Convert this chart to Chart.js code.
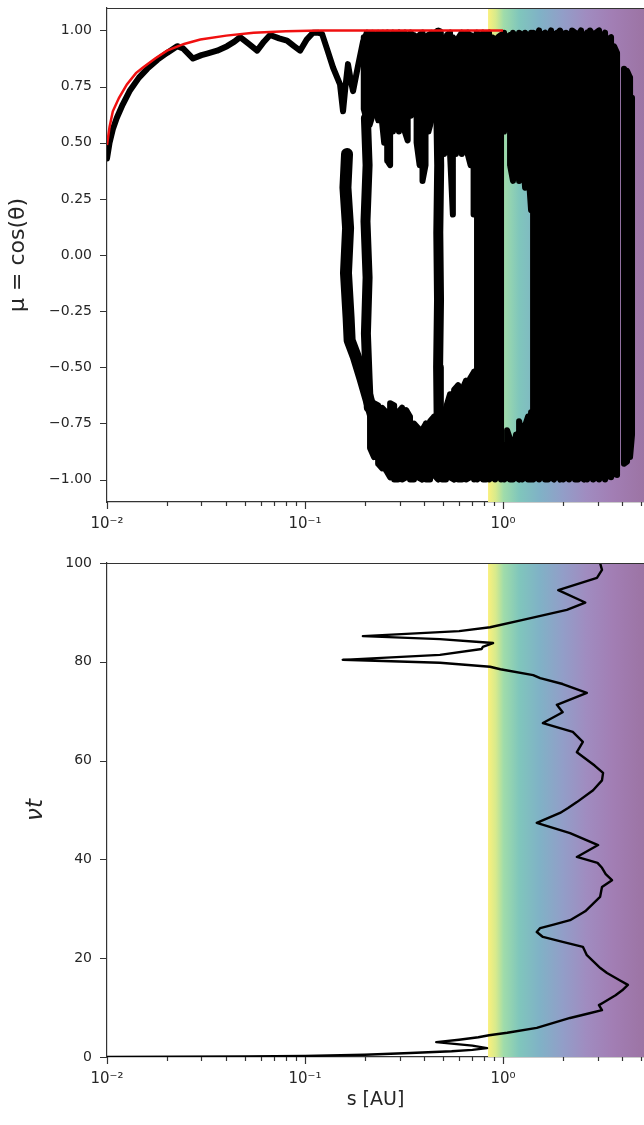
<!DOCTYPE html>
<html>
<head>
<meta charset="utf-8">
<script src="https://cdn.jsdelivr.net/npm/chart.js@4.4.1/dist/chart.umd.min.js"></script>
<style>
  html, body { margin: 0; padding: 0; background: #fff; overflow: hidden; }
  #topChart { position: absolute; left: 0; top: 0; }
  #bottomChart { position: absolute; left: 0; top: 555px; }
</style>
</head>
<body>
<canvas id="topChart" width="644" height="545"></canvas>
<canvas id="bottomChart" width="644" height="570"></canvas>
<script>
// ---- axes ----
const sRange = [0.01, 5.15];
const muRange = [-1.1, 1.1];
const vtRange = [0, 100];
const xTickValues = [0.01, 0.02, 0.03, 0.04, 0.05, 0.06, 0.07, 0.08, 0.09,
  0.1, 0.2, 0.3, 0.4, 0.5, 0.6, 0.7, 0.8, 0.9, 1, 2, 3, 4, 5];
const xMajorTicks = [0.01, 0.1, 1];
const xMajorLabels = ["10⁻²", "10⁻¹", "10⁰"];
const muTicks = [-1, -0.75, -0.5, -0.25, 0, 0.25, 0.5, 0.75, 1];
const vtTicks = [0, 20, 40, 60, 80, 100];
const bandStart = 0.84; // where the coloured region begins (s in AU)

// ---- red focusing curve mu(s) ----
const focusS = [0.0100, 0.0103, 0.0107, 0.0115, 0.0126, 0.0140, 0.0152, 0.0175, 0.0201, 0.0245, 0.0296, 0.040, 0.055, 0.080, 0.12, 1.0];
const focusMu = [0.49, 0.57, 0.64, 0.70, 0.76, 0.81, 0.835, 0.875, 0.91, 0.94, 0.96, 0.977, 0.99, 0.996, 1.0, 1.0];

// ---- particle mu(s), traced pieces ----
const traceStart = [[0.0100, 0.43], [0.0103, 0.50], [0.0107, 0.56], [0.0112, 0.61], [0.0120, 0.67], [0.0130, 0.73],
  [0.0145, 0.79], [0.0160, 0.83], [0.0180, 0.87], [0.0201, 0.90], [0.0226, 0.93], [0.0242, 0.92], [0.0272, 0.875],
  [0.0300, 0.89], [0.0320, 0.897], [0.0360, 0.91], [0.0404, 0.93], [0.0440, 0.95], [0.0470, 0.97], [0.0520, 0.94],
  [0.0573, 0.91], [0.0620, 0.95], [0.0666, 0.98], [0.0740, 0.965], [0.0811, 0.955], [0.0880, 0.93], [0.0944, 0.91],
  [0.1020, 0.96], [0.1097, 0.99], [0.1160, 0.99], [0.1219, 0.985], [0.1300, 0.91], [0.1385, 0.835], [0.1502, 0.76],
  [0.1556, 0.64], [0.1600, 0.75], [0.1648, 0.85], [0.1700, 0.78], [0.1748, 0.73], [0.1850, 0.84], [0.1963, 0.95],
  [0.2056, 0.99], [0.2257, 0.98], [0.2477, 0.99], [0.2718, 0.97], [0.2983, 0.99]];
const bandLeft = [[0.163, 0.45], [0.160, 0.30], [0.165, 0.12], [0.161, -0.08], [0.166, -0.28], [0.168, -0.38],
  [0.180, -0.45], [0.195, -0.55], [0.215, -0.68], [0.235, -0.80], [0.258, -0.94]];
const bandSecond = [[0.203, 0.61], [0.207, 0.40], [0.202, 0.15], [0.207, -0.10], [0.203, -0.35], [0.207, -0.55], [0.210, -0.68]];
const bandMid = [[0.474, 0.99], [0.470, 0.70], [0.476, 0.40], [0.471, 0.10], [0.475, -0.20], [0.470, -0.50], [0.474, -0.80]];

// vertical extents of the filled-in parts (s, highest mu, lowest mu)
const capS = [0.198, 0.205, 0.212, 0.219, 0.227, 0.234, 0.243, 0.251, 0.260, 0.269, 0.278, 0.288, 0.298, 0.308,
  0.319, 0.330, 0.342, 0.354, 0.366, 0.379, 0.392, 0.406, 0.420, 0.435];
const capTop = [0.97, 0.99, 0.98, 0.99, 0.97, 0.99, 0.97, 0.98, 0.99, 0.97, 0.99, 0.97, 0.99, 0.98,
  0.99, 0.97, 0.99, 0.98, 0.97, 0.98, 0.99, 0.97, 0.98, 0.99];
const capBot = [0.65, 0.60, 0.58, 0.62, 0.70, 0.60, 0.62, 0.50, 0.42, 0.40, 0.55, 0.60, 0.55, 0.60,
  0.55, 0.51, 0.62, 0.68, 0.50, 0.40, 0.33, 0.40, 0.55, 0.60];
const capRightS = [0.504, 0.521, 0.540, 0.558, 0.578, 0.598, 0.619, 0.641, 0.663, 0.686, 0.710, 0.735];
const capRightTop = [0.97, 0.98, 0.99, 0.97, 0.95, 0.97, 0.99, 0.98, 0.99, 0.98, 0.97, 0.99];
const capRightBot = [0.45, 0.50, 0.45, 0.18, 0.45, 0.50, 0.45, 0.48, 0.45, 0.40, 0.18, 0.45];

const floorS = [0.213, 0.223, 0.234, 0.245, 0.257, 0.269, 0.282, 0.295, 0.309, 0.324, 0.339, 0.355, 0.372, 0.390,
  0.408, 0.428, 0.448, 0.470, 0.492, 0.515, 0.540, 0.566, 0.593, 0.621, 0.650, 0.681, 0.714];
const floorTop = [-0.69, -0.66, -0.67, -0.68, -0.70, -0.66, -0.67, -0.70, -0.68, -0.69, -0.72, -0.75, -0.77, -0.78,
  -0.75, -0.74, -0.72, -0.75, -0.75, -0.68, -0.62, -0.60, -0.58, -0.60, -0.56, -0.55, -0.52];
const floorBot = [-0.86, -0.90, -0.93, -0.95, -0.96, -0.99, -1.0, -1.0, -1.0, -0.99, -1.0, -1.0, -0.99, -1.0,
  -1.0, -1.0, -0.98, -1.0, -1.0, -1.0, -0.99, -1.0, -1.0, -1.0, -1.0, -0.99, -1.0];

const wallS = [0.739, 0.765, 0.793, 0.821, 0.850, 0.880, 0.911, 0.944, 0.977];
const wallTop = [0.99, 0.97, 0.99, 0.98, 0.99, 0.97, 0.96, 0.97, 0.98];
const wallBot = [-1.0, -0.99, -1.0, -1.0, -1.0, -0.99, -1.0, -0.98, -1.0];

const gapS = [1.012, 1.048, 1.085, 1.123, 1.163, 1.205, 1.247, 1.292, 1.337, 1.385];
const gapUpperTop = [0.99, 0.97, 0.98, 0.99, 0.96, 0.99, 0.98, 0.99, 0.97, 0.99];
const gapUpperBot = [0.55, 0.80, 0.40, 0.33, 0.60, 0.33, 0.50, 0.30, 0.40, 0.20];
const gapLowerTop = [-0.85, -0.78, -0.82, -0.88, -0.80, -0.74, -0.80, -0.76, -0.72, -0.70];
const gapLowerBot = [-1.0, -0.99, -1.0, -1.0, -0.99, -1.0, -1.0, -0.99, -1.0, -1.0];

const denseS = [1.418, 1.468, 1.520, 1.574, 1.630, 1.688, 1.748, 1.810, 1.874, 1.941, 2.009, 2.081, 2.154, 2.231,
  2.310, 2.392, 2.477, 2.565, 2.656, 2.750, 2.848, 2.949, 3.054, 3.162, 3.275, 3.390, 3.511, 3.636, 3.765];
const denseTop = [0.99, 0.97, 1.0, 0.98, 0.99, 0.97, 1.0, 0.98, 0.99, 1.0, 0.97, 0.99, 0.98, 1.0,
  0.99, 0.98, 1.0, 0.97, 0.99, 1.0, 0.98, 0.99, 1.0, 0.97, 0.99, 0.96, 0.97, 0.93, 0.90];
const denseBot = [-1.0, -0.99, -1.0, -0.98, -1.0, -1.0, -0.99, -1.0, -0.97, -1.0, -1.0, -0.99, -1.0, -0.98,
  -1.0, -1.0, -0.99, -1.0, -1.0, -0.98, -1.0, -0.99, -1.0, -0.98, -1.0, -0.97, -0.99, -0.96, -0.98];

const edgeS = [4.08, 4.23, 4.38, 4.48];
const edgeTop = [0.83, 0.82, 0.79, 0.70];
const edgeBot = [-0.93, -0.92, -0.90, -0.80];

// ---- particle position s(nu t) ----
const pathS = [0.010, 0.05, 0.10, 0.20, 0.34, 0.55, 0.70, 0.83, 0.70, 0.55, 0.46, 0.60, 0.75, 0.85, 1.05, 1.48, 2.18,
  2.70, 3.16, 3.05, 3.20, 3.70, 4.00, 4.27, 3.90, 3.35, 3.10, 2.65, 2.53, 2.00, 1.59, 1.48, 1.54, 1.80, 2.18, 2.60,
  3.09, 3.16, 3.55, 3.30, 3.16, 3.00, 2.36, 3.02, 2.60, 2.18, 1.48, 1.94, 2.13, 2.36, 2.85, 3.16, 3.20, 2.90, 2.36,
  2.53, 2.25, 1.59, 2.00, 1.87, 2.65, 2.00, 1.54, 1.42, 0.97, 0.86, 0.48, 0.155, 0.48, 0.78, 0.79, 0.89, 0.76, 0.48,
  0.196, 0.48, 0.60, 0.86, 1.26, 2.10, 2.60, 1.90, 2.98, 3.16, 3.09];
const pathVt = [0, 0.1, 0.2, 0.45, 0.8, 1.15, 1.45, 1.8, 2.3, 2.7, 3.0, 3.5, 4.0, 4.4, 4.9, 5.9, 7.9,
  8.8, 9.5, 10.5, 11.0, 12.5, 13.5, 14.6, 15.5, 17.0, 18.0, 20.6, 22.3, 23.3, 24.3, 25.3, 26.1, 26.8, 27.7, 29.5,
  32.4, 34.4, 35.8, 37.0, 38.3, 39.3, 40.5, 42.9, 44.0, 45.3, 47.4, 49.4, 50.4, 51.6, 54.0, 56.0, 57.5, 59.0, 61.7,
  63.8, 65.8, 67.6, 69.8, 71.3, 73.7, 75.5, 76.7, 77.3, 78.5, 79.0, 79.8, 80.4, 81.4, 82.6, 83.0, 83.8, 84.0, 84.6,
  85.2, 86.0, 86.2, 87.0, 88.5, 90.5, 92.0, 94.5, 97.0, 98.6, 100];

// ---- styles ----
const FONT = "'DejaVu Sans', sans-serif";
const INK = "#262626";
const SPINE = "#333333";
const bandStops = [
  [0.00, "rgb(250,240,125)"], [0.05, "rgb(215,234,140)"], [0.10, "rgb(160,220,170)"],
  [0.20, "rgb(128,198,188)"], [0.33, "rgb(128,178,198)"], [0.48, "rgb(146,158,200)"],
  [0.63, "rgb(160,140,192)"], [0.80, "rgb(162,126,180)"], [1.00, "rgb(156,116,164)"]
];

Chart.defaults.font.family = FONT;
Chart.defaults.color = INK;

const toPoints = (pairs) => pairs.map(([x, y]) => ({ x, y }));
function columnsPath(s, top, bot) {
  const pts = [];
  s.forEach((v, i) => {
    if (i % 2 === 0) pts.push({ x: v, y: top[i] }, { x: v, y: bot[i] });
    else pts.push({ x: v, y: bot[i] }, { x: v, y: top[i] });
  });
  return pts;
}

const panelDecor = {
  id: "panelDecor",
  beforeDatasetsDraw(chart) {
    const { ctx, chartArea: a, scales: { x } } = chart;
    const x0 = x.getPixelForValue(bandStart);
    const g = ctx.createLinearGradient(x0, 0, a.right, 0);
    bandStops.forEach(([f, c]) => g.addColorStop(f, c));
    ctx.save();
    ctx.fillStyle = g;
    ctx.fillRect(x0, a.top, a.right - x0, a.bottom - a.top);
    ctx.restore();
  },
  afterDraw(chart) {
    const { ctx, chartArea: a, scales: { x, y } } = chart;
    ctx.save();
    ctx.strokeStyle = SPINE;
    ctx.lineWidth = 1.2;
    ctx.beginPath();
    xTickValues.forEach((v) => {
      const px = Math.round(x.getPixelForValue(v)) + 0.5;
      const len = xMajorTicks.includes(v) ? 7 : 4;
      ctx.moveTo(px, a.bottom);
      ctx.lineTo(px, a.bottom + len);
    });
    y.ticks.forEach((t) => {
      const py = Math.round(y.getPixelForValue(t.value)) + 0.5;
      ctx.moveTo(a.left - 7, py);
      ctx.lineTo(a.left, py);
    });
    ctx.moveTo(a.left, a.top + 0.5);
    ctx.lineTo(a.right, a.top + 0.5);
    ctx.stroke();
    ctx.restore();
  }
};

function xScale(axisHeight, title) {
  return {
    type: "logarithmic",
    min: sRange[0],
    max: sRange[1],
    afterBuildTicks: (s) => { s.ticks = xTickValues.map((v) => ({ value: v })); },
    afterFit: (s) => { s.height = axisHeight; s.paddingLeft = 0; s.paddingRight = 0; },
    ticks: {
      autoSkip: false, maxRotation: 0, padding: 6, font: { size: 15 },
      callback: (v) => { const i = xMajorTicks.indexOf(v); return i >= 0 ? xMajorLabels[i] : ""; }
    },
    grid: { drawOnChartArea: false, tickLength: 7, color: "rgba(0,0,0,0)" },
    border: { color: SPINE, width: 1.2 },
    title: title
  };
}

function yScale(range, tickVals, fmt, title) {
  return {
    type: "linear",
    min: range[0],
    max: range[1],
    afterBuildTicks: (s) => { s.ticks = tickVals.map((v) => ({ value: v })); },
    afterFit: (s) => { s.width = 107; s.paddingTop = 0; s.paddingBottom = 0; },
    ticks: { padding: 8, font: { size: 14 }, callback: fmt },
    grid: { drawOnChartArea: false, tickLength: 7, color: "rgba(0,0,0,0)" },
    border: { color: SPINE, width: 1.2 },
    title: title
  };
}

const blackTrace = (data, width) => ({
  data, showLine: true, pointRadius: 0, borderColor: "#000", borderWidth: width || 6,
  borderJoinStyle: "round", borderCapStyle: "round", order: 2
});

const commonOpts = {
  responsive: false, animation: false, events: [], devicePixelRatio: 1,
  layout: { padding: { top: 8, left: 0, right: 0, bottom: 0 } },
  plugins: { legend: { display: false }, tooltip: { enabled: false } }
};

new Chart(document.getElementById("topChart"), {
  type: "scatter",
  data: {
    datasets: [
      {
        data: focusS.map((s, i) => ({ x: s, y: focusMu[i] })),
        showLine: true, pointRadius: 0, borderColor: "#f01010", borderWidth: 2.5, order: 0
      },
      blackTrace(toPoints(traceStart), 6),
      blackTrace(toPoints(bandLeft), 12),
      blackTrace(toPoints(bandSecond), 10),
      blackTrace(toPoints(bandMid), 10),
      blackTrace(columnsPath(capS, capTop, capBot)),
      blackTrace(columnsPath(capRightS, capRightTop, capRightBot)),
      blackTrace(columnsPath(floorS, floorTop, floorBot)),
      blackTrace(columnsPath(wallS, wallTop, wallBot)),
      blackTrace(columnsPath(gapS, gapUpperTop, gapUpperBot)),
      blackTrace(columnsPath(gapS, gapLowerTop, gapLowerBot)),
      blackTrace(columnsPath(denseS, denseTop, denseBot)),
      blackTrace(columnsPath(edgeS, edgeTop, edgeBot))
    ]
  },
  options: {
    ...commonOpts,
    scales: {
      x: xScale(43, { display: false }),
      y: yScale(muRange, muTicks, (v) => v.toFixed(2).replace("-", "−"),
        { display: true, text: "μ = cos(θ)", font: { size: 22 }, color: INK, padding: { top: 5, bottom: 0 } })
    }
  },
  plugins: [panelDecor]
});

new Chart(document.getElementById("bottomChart"), {
  type: "scatter",
  data: {
    datasets: [{
      data: pathS.map((s, i) => ({ x: s, y: pathVt[i] })),
      showLine: true, pointRadius: 0, borderColor: "#000", borderWidth: 2.4,
      borderJoinStyle: "round", borderCapStyle: "round"
    }]
  },
  options: {
    ...commonOpts,
    scales: {
      x: xScale(68, { display: true, text: "s [AU]", font: { size: 19 }, color: INK, padding: { top: 0, bottom: 14 } }),
      y: yScale(vtRange, vtTicks, (v) => String(v),
        { display: true, text: "νt", font: { size: 23, style: "italic" }, color: INK, padding: { top: 22, bottom: 0 } })
    }
  },
  plugins: [panelDecor]
});
</script>
</body>
</html>
